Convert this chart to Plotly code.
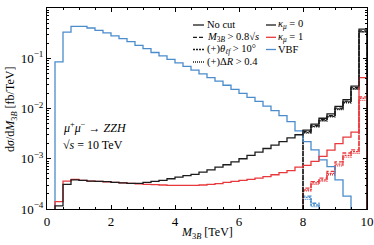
import numpy as np
import plotly.graph_objects as go

# ---------------- data ----------------
bin_edges = [i * 0.25 for i in range(41)]          # 0 .. 10 TeV, 0.25 TeV bins
cut_edges = [8.0 + i * 0.25 for i in range(9)]     # 8 .. 10 TeV (M3B > 0.8 sqrt(s))

kappa0_nocut = [0, 1.15e-4, 3.1e-4, 3.8e-4, 3.7e-4, 3.6e-4, 3.55e-4, 3.5e-4, 3.4e-4, 3.3e-4,
                3.25e-4, 3.25e-4, 3.4e-4, 3.55e-4, 3.7e-4, 4.0e-4, 4.3e-4, 4.6e-4, 4.9e-4, 5.4e-4,
                6.0e-4, 6.8e-4, 7.6e-4, 8.7e-4, 1.0e-3, 1.17e-3, 1.35e-3, 1.6e-3, 1.86e-3, 2.2e-3,
                2.6e-3, 3.0e-3, 3.7e-3, 4.9e-3, 6.4e-3, 7.8e-3, 0.011, 0.015, 0.028, 0.38]
kappa1_nocut = [0, 1.4e-4, 3.6e-4, 3.9e-4, 3.7e-4, 3.6e-4, 3.55e-4, 3.45e-4, 3.4e-4, 3.3e-4,
                3.25e-4, 3.15e-4, 3.1e-4, 3.05e-4, 3.0e-4, 2.95e-4, 2.95e-4, 2.95e-4, 2.95e-4, 3.0e-4,
                3.1e-4, 3.2e-4, 3.4e-4, 3.55e-4, 3.7e-4, 3.9e-4, 4.1e-4, 4.4e-4, 4.8e-4, 5.3e-4,
                5.8e-4, 6.8e-4, 7.4e-4, 8.9e-4, 1.12e-3, 1.48e-3, 2.0e-3, 2.7e-3, 3.4e-3, 0.041]
vbf_nocut = [0, 0.085, 0.33, 0.43, 0.43, 0.40, 0.36, 0.32, 0.28, 0.245,
             0.215, 0.18, 0.155, 0.13, 0.112, 0.095, 0.081, 0.069, 0.058, 0.049,
             0.041, 0.035, 0.029, 0.024, 0.020, 0.0166, 0.0138, 0.0112, 0.0091, 0.0072,
             0.0055, 0.0036, 0.0022, 0.0015, 0.00095, 0.0007, 0.00038, 0.00018, 0, 0]

kappa0_m3b = [3.5e-3, 4.6e-3, 6.0e-3, 7.2e-3, 0.0102, 0.014, 0.026, 0.35]
kappa0_theta = [3.35e-3, 4.4e-3, 5.8e-3, 7.0e-3, 0.0098, 0.0135, 0.025, 0.34]
kappa0_dr = [3.25e-3, 4.3e-3, 5.6e-3, 6.8e-3, 0.0095, 0.013, 0.024, 0.33]
kappa1_m3b = [2.6e-4, 3.5e-4, 4.1e-4, 5.6e-4, 8.7e-4, 1.3e-3, 1.5e-3, 0.017]
kappa1_theta = [2.4e-4, 3.3e-4, 3.8e-4, 5.1e-4, 7.8e-4, 1.17e-3, 1.38e-3, 0.016]
kappa1_dr = [2.3e-4, 3.1e-4, 3.6e-4, 4.8e-4, 7.2e-4, 1.08e-3, 1.28e-3, 0.0145]
vbf_m3b = [1.8e-4, 1.3e-4, 0, 0, 0, 0, 0, 0]
vbf_theta = [1.7e-4, 1.2e-4, 0, 0, 0, 0, 0, 0]
vbf_dr = [1.55e-4, 1.12e-4, 0, 0, 0, 0, 0, 0]

x_tickvals = [0, 2, 4, 6, 8, 10]
y_tickvals = [1e-4, 1e-3, 1e-2, 1e-1, 1]
y_ticktext = ["10<sup>−4</sup>", "10<sup>−3</sup>", "10<sup>−2</sup>", "10<sup>−1</sup>", "10<sup>0</sup>"]

legend_styles = ["No cut", "<i>M</i><sub>3<i>B</i></sub> > 0.8√<i>s</i>",
                 "(+)<i>θ</i><sub><i>ℓf</i></sub> > 10°", "(+)Δ<i>R</i> > 0.4"]
legend_samples = ["<i>κ<sub>μ</sub></i> = 0", "<i>κ<sub>μ</sub></i> = 1", "VBF"]

# ---------------- style ----------------
BLACK = "#1c1c1c"
RED = "#e8383c"
BLUE = "#4a8ccc"
DASH = {"solid": "solid", "m3b": "4px,2px", "theta": "2px,1px", "dr": "1px,1px"}
FONT = "Liberation Serif"
FLOOR = 1e-7


def step_xy(edges, vals):
    xs = [edges[0]]
    ys = [FLOOR]
    for e, v in zip(edges[:-1], vals):
        xs.append(e)
        ys.append(v if v > 0 else FLOOR)
    xs.append(edges[-1])
    ys.append(FLOOR)
    return xs, ys


fig = go.Figure()

series = [
    (cut_edges, vbf_dr, BLUE, "dr"), (cut_edges, vbf_theta, BLUE, "theta"), (cut_edges, vbf_m3b, BLUE, "m3b"),
    (cut_edges, kappa1_dr, RED, "dr"), (cut_edges, kappa1_theta, RED, "theta"), (cut_edges, kappa1_m3b, RED, "m3b"),
    (cut_edges, kappa0_dr, BLACK, "dr"), (cut_edges, kappa0_theta, BLACK, "theta"), (cut_edges, kappa0_m3b, BLACK, "m3b"),
    (bin_edges, vbf_nocut, BLUE, "solid"),
    (bin_edges, kappa1_nocut, RED, "solid"),
    (bin_edges, kappa0_nocut, BLACK, "solid"),
]
for edges, vals, col, sty in series:
    xs, ys = step_xy(edges, vals)
    fig.add_trace(go.Scatter(x=xs, y=ys, mode="lines", line_shape="hv",
                             line=dict(color=col, width=1.3, dash=DASH[sty]),
                             showlegend=False, hoverinfo="skip"))

# ---------------- manual legend / labels ----------------
X0, X1, YT, YB = 47, 367, 8, 209


def px(x):
    return (x - X0) / (X1 - X0)


def py(y):
    return (YB - y) / (YB - YT)


LFS = 10.5
rows_y = [25, 37.3, 49.5, 62]
col1_style = ["solid", "m3b", "theta", "dr"]
for i, (lab, sty) in enumerate(zip(legend_styles, col1_style)):
    fig.add_shape(type="line", xref="paper", yref="paper", x0=px(193), x1=px(204),
                  y0=py(rows_y[i]), y1=py(rows_y[i]), line=dict(color=BLACK, width=1.3, dash=DASH[sty]))
    fig.add_annotation(xref="paper", yref="paper", x=px(204.5), y=py(rows_y[i]), text=lab,
                       showarrow=False, xanchor="left", yanchor="middle",
                       font=dict(family=FONT, size=LFS, color="black"))
for i, (lab, col) in enumerate(zip(legend_samples, [BLACK, RED, BLUE])):
    fig.add_shape(type="line", xref="paper", yref="paper", x0=px(266), x1=px(276),
                  y0=py(rows_y[i]), y1=py(rows_y[i]), line=dict(color=col, width=1.3))
    fig.add_annotation(xref="paper", yref="paper", x=px(276), y=py(rows_y[i]), text=lab,
                       showarrow=False, xanchor="left", yanchor="middle",
                       font=dict(family=FONT, size=LFS, color="black"))

fig.add_annotation(xref="paper", yref="paper", x=px(61), y=py(127),
                   text="<i>μ</i><sup>+</sup><i>μ</i><sup>−</sup> → <i>ZZH</i>",
                   showarrow=False, xanchor="left", yanchor="middle",
                   font=dict(family=FONT, size=12, color="black"))
fig.add_annotation(xref="paper", yref="paper", x=px(61), y=py(145),
                   text="√<i>s</i> = 10 TeV",
                   showarrow=False, xanchor="left", yanchor="middle",
                   font=dict(family=FONT, size=12, color="black"))

# axis titles
fig.add_annotation(xref="paper", yref="paper", x=px(207), y=py(233),
                   text="<i>M</i><sub>3<i>B</i></sub> [TeV]",
                   showarrow=False, xanchor="center", yanchor="middle",
                   font=dict(family=FONT, size=12, color="black"))
fig.add_annotation(xref="paper", yref="paper", x=px(11), y=py(110),
                   text="d<i>σ</i>/d<i>M</i><sub>3<i>B</i></sub> [fb/TeV]", textangle=-90,
                   showarrow=False, xanchor="center", yanchor="middle",
                   font=dict(family=FONT, size=12, color="black"))

axis_common = dict(showline=True, linecolor="black", linewidth=1, mirror="ticks",
                   ticks="inside", ticklen=4, tickcolor="black", showgrid=False, zeroline=False,
                   tickfont=dict(family=FONT, size=13, color="black"))
fig.update_xaxes(range=[0, 10], tickvals=x_tickvals, **axis_common,
                 minor=dict(ticks="inside", ticklen=2, dtick=0.5, tickcolor="black", showgrid=False))
fig.update_yaxes(type="log", range=[-4, 0], tickvals=y_tickvals, ticktext=y_ticktext, **axis_common,
                 minor=dict(ticks="inside", ticklen=2, dtick="D1", tickcolor="black", showgrid=False))

fig.update_layout(width=374, height=245, margin=dict(l=47, r=7, t=8, b=36, autoexpand=False),
                  plot_bgcolor="white", paper_bgcolor="white", showlegend=False)

fig.write_html("out.html", config={"displayModeBar": False},
               post_script="document.body.style.margin='0';document.body.style.padding='0';"
                           "document.body.style.overflow='hidden';")
